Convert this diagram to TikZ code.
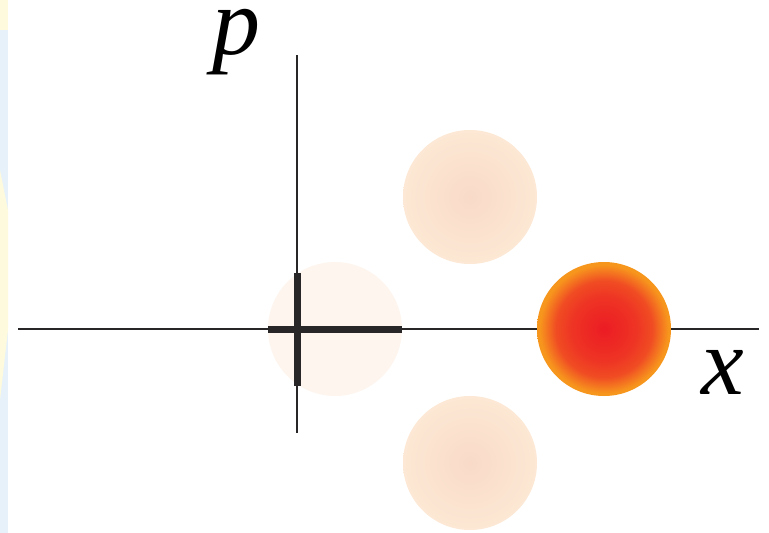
\documentclass[tikz,border=0pt]{standalone}
\usepackage{fontspec}
\setmainfont{Liberation Serif}
\usetikzlibrary{positioning}
\definecolor{axisgray}{RGB}{40,38,38}
\definecolor{cfaint}{RGB}{254,245,238}
\definecolor{cpale}{RGB}{249,218,200}
\definecolor{cpaleedge}{RGB}{252,232,212}
\definecolor{cred}{RGB}{236,28,36}
\definecolor{credmid}{RGB}{238,52,36}
\definecolor{credout}{RGB}{240,76,35}
\definecolor{corange}{RGB}{247,150,29}
\definecolor{cstripblue}{RGB}{230,241,250}
\definecolor{cstripyellow}{RGB}{254,250,222}
\pgfdeclareradialshading{paleblob}{\pgfpoint{0bp}{0bp}}{color(0bp)=(cpale); color(25bp)=(cpaleedge); color(50bp)=(cpaleedge)}
\pgfdeclareradialshading{redblob}{\pgfpoint{0bp}{0bp}}{color(0bp)=(cred); color(12bp)=(credmid); color(18bp)=(credout); color(24bp)=(corange); color(50bp)=(corange)}

\begin{document}
\begin{tikzpicture}[x=1pt,y=-1pt,
    blob/.style={circle, minimum size=134pt, inner sep=0pt},
    axislabel/.style={font=\fontsize{96}{96}\selectfont\itshape, inner sep=0pt, anchor=base}]
    \useasboundingbox (0,0) rectangle (769,533);
    \fill[cstripblue] (0,0) rectangle (8,533);
    \fill[cstripyellow] (0,0) rectangle (8,30);
    \fill[cstripyellow] (0,170) -- (8,210) -- (8,330) -- (0,400) -- cycle;
    % states in phase space
    \node[blob, fill=cfaint] (vac) at (335,329) {};
    \node[blob, shading=paleblob] (up) at (470,197) {};
    \node[blob, shading=paleblob] (down) at (470,463) {};
    \node[blob, shading=redblob] (coh) at (604,329) {};
    % axes
    \coordinate (xl) at (18,329);
    \coordinate (xr) at (759,329);
    \coordinate (pt) at (297,55);
    \coordinate (pb) at (297,433);
    \draw[axisgray, line width=1.3pt] (xl) -- (vac.west);
    \draw[axisgray, line width=1.3pt] (vac.east) -- (coh.west);
    \draw[axisgray, line width=1.3pt] (coh.east) -- (xr);
    \draw[axisgray, line width=1.3pt] (pt) -- (pb);
    \draw[axisgray, line width=7pt] (vac.west) -- (vac.east);
    \draw[axisgray, line width=7pt] (297,273) coordinate (ut) -- (297,386) coordinate (ub);
    \node[axislabel] (plabel) at (236,54) {p};
    \node[axislabel] (xlabel) at (723,394) {x};
\end{tikzpicture}
\end{document}
